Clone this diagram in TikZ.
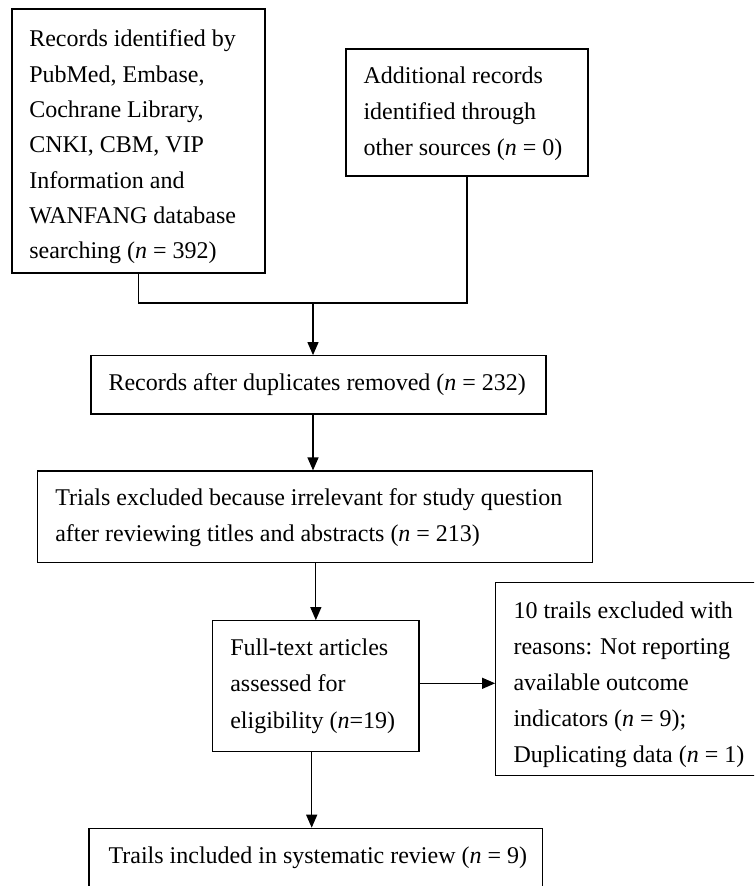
\documentclass[tikz,border=0pt]{standalone}
\usepackage{fontspec}
\setmainfont{Liberation Serif}
\usetikzlibrary{arrows.meta,fit}
\newcommand{\fstrut}{\rule{0pt}{18pt}}
\begin{document}
\begin{tikzpicture}[x=0.75pt,y=-0.75pt,
  boxframe/.style={draw=black,line width=0.9pt,inner sep=0pt,rectangle},
  boxtext/.style={anchor=north west,inner sep=0pt,align=left},
  ls/.style={font=\fontsize{18pt}{#1}\selectfont},
  conn/.style={draw=black,line width=0.9pt},
  arr/.style={conn,-{Triangle[length=9.75pt,width=8.25pt]}}]
\useasboundingbox (0,0) rectangle (754,886);
\clip (0,0) rectangle (754,886);
% frames
\node[boxframe,fit={(12,9)(265,273)}] (b1) {};
\node[boxframe,fit={(346,49)(588,176)}] (b2) {};
\node[boxframe,fit={(91,355.7)(546,414)}] (b3) {};
\node[boxframe,fit={(37.7,471)(592.7,562.3)}] (b4) {};
\node[boxframe,fit={(212.7,620.7)(419,751.7)}] (b5) {};
\node[boxframe,fit={(495.7,582.7)(775,775.7)}] (b6) {};
\node[boxframe,fit={(89,828.3)(542.3,905)}] (b7) {};
% texts
\node[boxtext,ls=26.5pt] (t1) at (29,22.7) {\fstrut Records identified by\\PubMed, Embase,\\Cochrane Library,\\CNKI, CBM, VIP\\Information and\\WANFANG database\\searching (\textit{n} = 392)};
\node[boxtext,ls=26.9pt] (t2) at (363.3,59.3) {\fstrut Additional records\\identified through\\other sources (\textit{n} = 0)};
\node[boxtext,ls=27pt] (t3) at (108.3,366.7) {\fstrut Records after duplicates removed (\textit{n} = 232)};
\node[boxtext,ls=27pt] (t4) at (55,481.7) {\fstrut Trials excluded because irrelevant for study question\\after reviewing titles and abstracts (\textit{n} = 213)};
\node[boxtext,ls=27.5pt] (t5) at (230,631) {\fstrut Full-text articles\\assessed for\\eligibility (\textit{n}=19)};
\node[boxtext,ls=26.9pt] (t6) at (513.3,594.3) {\fstrut 10 trails excluded with\\reasons: Not reporting\\available outcome\\indicators (\textit{n} = 9);\\Duplicating data (\textit{n} = 1)};
\node[boxtext,ls=27pt] (t7) at (108.3,839.3) {\fstrut Trails included in systematic review (\textit{n} = 9)};
% connector helper coordinates
\coordinate (j) at (313,303);
\coordinate (k) at (311.7,760);
\coordinate (m) at (450,683.3);
% connectors
\draw[conn] (b1.south) -- (b1.south |- j) -- (b2.south |- j) -- (b2.south);
\draw[arr] (j) -- (j |- b3.north);
\draw[arr] (b3.south -| j) -- (b4.north -| j);
\draw[arr] (b4.south -| b5.north) -- (b5.north);
\draw[arr] (b5.east |- m) -- (b6.west |- m);
\draw[arr] (b5.south -| k) -- (b7.north -| k);
\end{tikzpicture}
\end{document}
